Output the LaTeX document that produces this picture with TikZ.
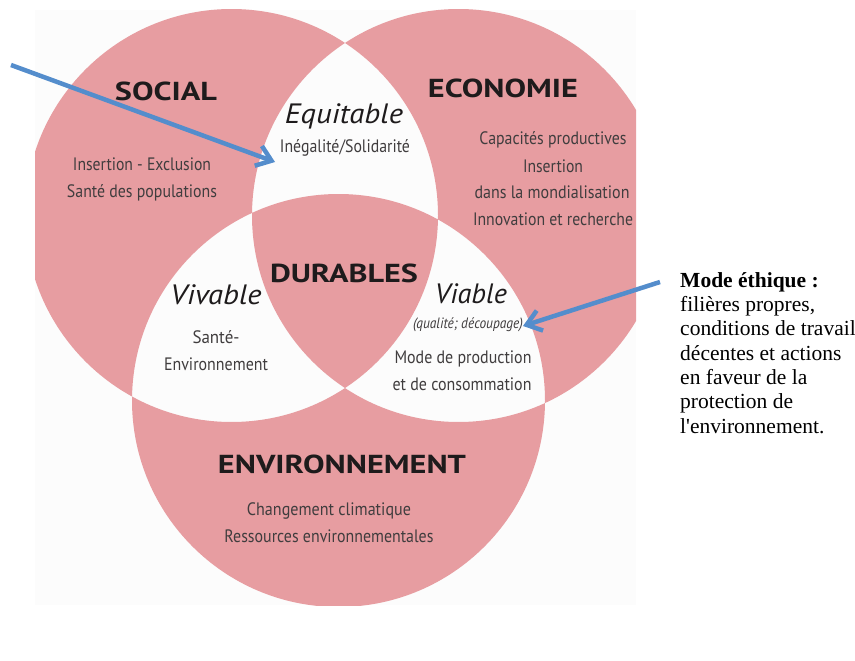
\documentclass[tikz,border=0pt]{standalone}
\usepackage{fontspec}
\usepackage{graphicx}
\setmainfont{Liberation Serif}
\newfontfamily\dsans{PT Sans}
\usetikzlibrary{arrows.meta}
\definecolor{venn}{RGB}{231,157,161}
\definecolor{arrowblue}{RGB}{84,141,204}
\definecolor{ink}{RGB}{30,27,28}
\definecolor{paper}{RGB}{252,252,252}
\newcommand{\fitw}[2]{\resizebox{#1pt}{\height}{#2}}
\tikzset{
  title/.style={font=\dsans\bfseries\fontsize{26}{28}\selectfont, text=ink, inner sep=0pt, anchor=base},
  qual/.style={font=\dsans\itshape\fontsize{28}{30}\selectfont, text=ink, inner sep=0pt, anchor=base},
  lbl/.style={font=\dsans\fontsize{18}{20}\selectfont, text=ink!85, inner sep=0pt, anchor=base},
  small/.style={font=\dsans\itshape\fontsize{15}{17}\selectfont, text=ink!85, inner sep=0pt, anchor=base},
  pointer/.style={draw=arrowblue, line width=4.5pt, -{Straight Barb[length=14pt,width=21pt,line width=4.5pt]}},
  note/.style={font=\fontsize{21.5}{24.3}\selectfont, text=black, inner sep=0pt, align=left, anchor=base west}
}
\begin{document}
\begin{tikzpicture}[x=1pt,y=-1pt]
\useasboundingbox (0,0) rectangle (855,661);
\fill[white] (0,0) rectangle (855,661);
\fill[paper] (35,10) rectangle (636,605);
\coordinate (cs) at (231.5,215.5);
\coordinate (ce) at (458.5,215.5);
\coordinate (cv) at (338.5,400.5);
\begin{scope}
\clip (35,10) rectangle (636,605);
\fill[venn, even odd rule] (cs) circle (206.5) (ce) circle (206.5) (cv) circle (206.5);
\end{scope}
% titles
\node[title] (social) at (166,100) {\fitw{102}{SOCIAL}};
\node[title] (eco) at (503,97) {\fitw{150}{ECONOMIE}};
\node[title] (dur) at (344,282) {\fitw{148}{DURABLES}};
\node[title] (env) at (342,473) {\fitw{248}{ENVIRONNEMENT}};
% qualifiers
\node[qual] (equi) at (344,124) {\fitw{118}{Equitable}};
\node[qual] (viva) at (216,304) {\fitw{91}{Vivable}};
\node[qual] (viab) at (471,303) {\fitw{72}{Viable}};
% labels
\node[lbl] (ineg) at (345,152) {\fitw{130}{Inégalité/Solidarité}};
\node[lbl] (s1) at (142,171) {\fitw{138}{Insertion - Exclusion}};
\node[lbl] (s2) at (142,197) {\fitw{150}{Santé des populations}};
\node[lbl] (e1) at (553,145) {\fitw{147}{Capacités productives}};
\node[lbl] (e2) at (553,172) {\fitw{60}{Insertion}};
\node[lbl] (e3) at (552,198) {\fitw{155}{dans la mondialisation}};
\node[lbl] (e4) at (553,225) {\fitw{160}{Innovation et recherche}};
\node[lbl] (v1) at (216,343) {\fitw{47}{Santé-}};
\node[lbl] (v2) at (216,370) {\fitw{104}{Environnement}};
\node[small] (qd) at (468,328) {\fitw{110}{(qualité; découpage)}};
\node[lbl] (m1) at (463,363) {\fitw{137}{Mode de production}};
\node[lbl] (m2) at (462,390) {\fitw{139}{et de consommation}};
\node[lbl] (n1) at (329,515) {\fitw{164}{Changement climatique}};
\node[lbl] (n2) at (329,542) {\fitw{209}{Ressources environnementales}};
% side note
\node[note] (mode) at (680,433) {\textbf{Mode éthique :}\\filières propres,\\conditions de travail\\décentes et actions\\en faveur de la\\protection de\\l\textquotesingle environnement.};
% arrows
\coordinate (a1s) at (11,65);
\coordinate (a1e) at (275,162);
\coordinate (a2s) at (660,282);
\coordinate (a2e) at (523,326);
\draw[pointer] (a1s) -- (a1e);
\draw[pointer] (a2s) -- (a2e);
\end{tikzpicture}
\end{document}
